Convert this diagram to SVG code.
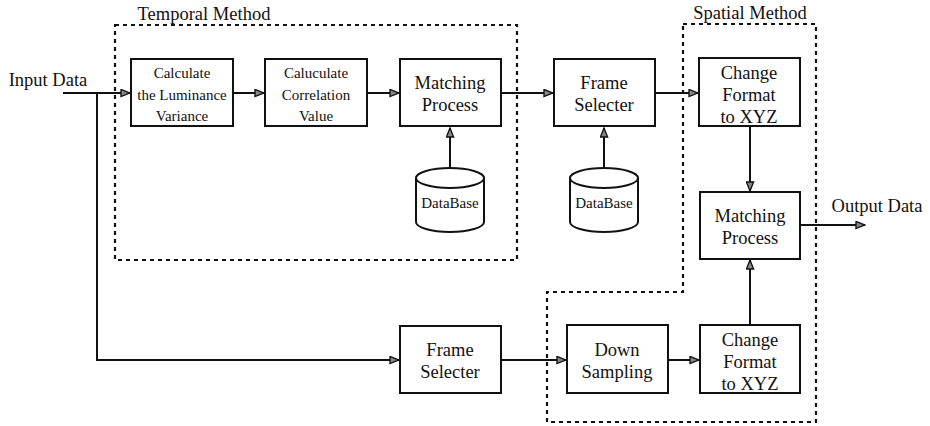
<svg xmlns="http://www.w3.org/2000/svg" width="930" height="426" viewBox="0 0 930 426">
<defs>
<style>
.box{fill:#fff;stroke:#111;stroke-width:2}
.grp{fill:none;stroke:#111;stroke-width:2.2;stroke-dasharray:4,4}
.ln{fill:none;stroke:#111;stroke-width:2}
text{font-family:"Liberation Serif","Times New Roman",serif;fill:#111;text-anchor:middle}
.t{font-size:18.5px}
.s{font-size:15px}
.d{font-size:15px}
.lbl{font-size:18.5px}
</style>
<marker id="ah" viewBox="0 0 10 10" refX="10" refY="5" markerWidth="11" markerHeight="9" markerUnits="userSpaceOnUse" orient="auto">
<path d="M0,1 L10,5 L0,9 Z" fill="#888" stroke="#111" stroke-width="1.5"/>
</marker>
</defs>
<rect width="930" height="426" fill="#fff"/>
<g id="temporal-group">
<rect class="grp" x="115" y="25" width="402" height="235"/>
<text class="lbl" x="204" y="20">Temporal Method</text>
</g>
<g id="spatial-group">
<path class="grp" d="M683,24 H816 V422 H547 V292 H683 Z"/>
<text class="lbl" x="750" y="19">Spatial Method</text>
</g>
<g id="connectors">
<path class="ln" d="M63,93 H130" marker-end="url(#ah)"/>
<path class="ln" d="M97,93 V360 H399" marker-end="url(#ah)"/>
<path class="ln" d="M233,93 H264" marker-end="url(#ah)"/>
<path class="ln" d="M367,93 H399" marker-end="url(#ah)"/>
<path class="ln" d="M501,93 H553" marker-end="url(#ah)"/>
<path class="ln" d="M655,93 H698" marker-end="url(#ah)"/>
<path class="ln" d="M450,168 V128" marker-end="url(#ah)"/>
<path class="ln" d="M604,168 V128" marker-end="url(#ah)"/>
<path class="ln" d="M750,126 V191" marker-end="url(#ah)"/>
<path class="ln" d="M750,325 V260" marker-end="url(#ah)"/>
<path class="ln" d="M800,225 H865" marker-end="url(#ah)"/>
<path class="ln" d="M501,360 H566" marker-end="url(#ah)"/>
<path class="ln" d="M668,360 H699" marker-end="url(#ah)"/>
</g>
<g id="input-label"><text class="lbl" x="48" y="86">Input Data</text></g>
<g id="output-label"><text class="lbl" x="877" y="212">Output Data</text></g>
<g id="calc-luminance">
<rect class="box" x="131" y="59" width="102" height="67"/>
<text class="s" x="182" y="78">Calculate</text>
<text class="s" x="182" y="100">the Luminance</text>
<text class="s" x="182" y="121">Variance</text>
</g>
<g id="calc-correlation">
<rect class="box" x="265" y="59" width="102" height="67"/>
<text class="s" x="316" y="78">Caluculate</text>
<text class="s" x="316" y="100">Correlation</text>
<text class="s" x="316" y="121">Value</text>
</g>
<g id="matching-temporal">
<rect class="box" x="400" y="59" width="101" height="67"/>
<text class="t" x="450" y="89">Matching</text>
<text class="t" x="450" y="111">Process</text>
</g>
<g id="db-temporal">
<path class="box" d="M416,178 V222 A34,10 0 0 0 484,222 V178 A34,10 0 0 0 416,178 A34,10 0 0 0 484,178"/>
<text class="d" x="450" y="208">DataBase</text>
</g>
<g id="frame-selecter-top">
<rect class="box" x="554" y="59" width="101" height="67"/>
<text class="t" x="604" y="89">Frame</text>
<text class="t" x="604" y="111">Selecter</text>
</g>
<g id="db-frame">
<path class="box" d="M570,178 V222 A34,10 0 0 0 638,222 V178 A34,10 0 0 0 570,178 A34,10 0 0 0 638,178"/>
<text class="d" x="604" y="208">DataBase</text>
</g>
<g id="change-format-top">
<rect class="box" x="699" y="58" width="101" height="68"/>
<text class="t" x="749" y="79">Change</text>
<text class="t" x="749" y="101">Format</text>
<text class="t" x="749" y="123">to XYZ</text>
</g>
<g id="matching-spatial">
<rect class="box" x="700" y="192" width="100" height="67"/>
<text class="t" x="750" y="222">Matching</text>
<text class="t" x="750" y="244">Process</text>
</g>
<g id="change-format-bottom">
<rect class="box" x="700" y="325" width="100" height="68"/>
<text class="t" x="750" y="346">Change</text>
<text class="t" x="750" y="368">Format</text>
<text class="t" x="750" y="390">to XYZ</text>
</g>
<g id="down-sampling">
<rect class="box" x="567" y="325" width="101" height="68"/>
<text class="t" x="617" y="356">Down</text>
<text class="t" x="617" y="378">Sampling</text>
</g>
<g id="frame-selecter-bottom">
<rect class="box" x="400" y="326" width="101" height="67"/>
<text class="t" x="450" y="356">Frame</text>
<text class="t" x="450" y="378">Selecter</text>
</g>
</svg>
